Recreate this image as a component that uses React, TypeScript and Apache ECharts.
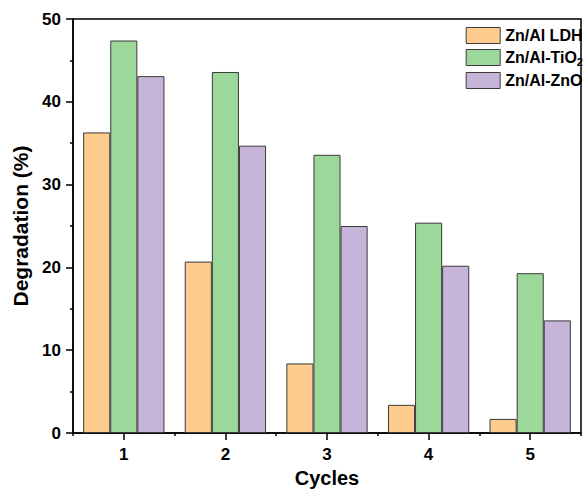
import React, { useEffect, useRef } from "react";
import * as echarts from "echarts";

const cycles = ["1", "2", "3", "4", "5"];
const ldh = [36.3, 20.7, 8.4, 3.4, 1.7];
const tio2 = [47.4, 43.6, 33.6, 25.4, 19.3];
const zno = [43.1, 34.7, 25.0, 20.2, 13.6];
const seriesNames = ["Zn/Al LDH", "Zn/Al-TiO2", "Zn/Al-ZnO"];
const colors = ["#FFCC8F", "#9DD89B", "#C6B5D8"];

const FONT = "Liberation Sans, Arial, Helvetica, sans-serif";

export default function App() {
  const ref = useRef<HTMLDivElement>(null);
  useEffect(() => {
    if (!ref.current) return;
    const chart = echarts.init(ref.current, null, { renderer: "svg" });
    const values = [ldh, tio2, zno];
    const barBorder = { borderColor: "#3a3a3a", borderWidth: 1 };
    chart.setOption({
      animation: false,
      backgroundColor: "#ffffff",
      textStyle: { fontFamily: FONT },
      grid: {
        left: 73,
        right: 7,
        top: 19,
        bottom: 56,
        show: true,
        borderColor: "#000",
        borderWidth: 1.5,
        backgroundColor: "transparent",
        containLabel: false,
        outerBoundsMode: "none",
      },
      legend: {
        orient: "vertical",
        right: 0,
        top: 22,
        itemWidth: 34,
        itemHeight: 16,
        itemGap: 5,
        icon: "rect",
        itemStyle: { borderColor: "#3a3a3a", borderWidth: 1 },
        data: seriesNames,
        formatter: (name: string) =>
          name === "Zn/Al-TiO2" ? "Zn/Al-TiO{sub|2}" : name,
        textStyle: {
          fontFamily: FONT,
          fontWeight: "bold",
          fontSize: 16,
          color: "#000",
          rich: {
            sub: {
              fontFamily: FONT,
              fontWeight: "bold",
              fontSize: 11,
              color: "#000",
              padding: [8, 0, 0, 0],
            },
          },
        },
      },
      xAxis: [
        {
          type: "category",
          data: cycles,
          position: "bottom",
          name: "Cycles",
          nameLocation: "middle",
          nameGap: 35,
          nameTextStyle: {
            fontFamily: FONT,
            fontWeight: "bold",
            fontSize: 20,
            color: "#000",
          },
          axisLine: { show: true, lineStyle: { color: "#000", width: 1.5 } },
          axisTick: {
            show: true,
            alignWithLabel: true,
            length: 7,
            lineStyle: { color: "#000", width: 1.5 },
          },
          axisLabel: {
            margin: 13,
            fontFamily: FONT,
            fontWeight: "bold",
            fontSize: 17,
            color: "#000",
          },
          splitLine: { show: false },
        },
        {
          type: "category",
          data: cycles,
          position: "bottom",
          axisLine: { show: false },
          axisTick: {
            show: true,
            length: 3,
            lineStyle: { color: "#000", width: 1.5 },
          },
          axisLabel: { show: false },
          splitLine: { show: false },
        },
      ],
      yAxis: {
        type: "value",
        min: 0,
        max: 50,
        interval: 10,
        name: "Degradation (%)",
        nameLocation: "middle",
        nameGap: 30,
        nameTextStyle: {
          fontFamily: FONT,
          fontWeight: "bold",
          fontSize: 21,
          color: "#000",
        },
        axisLine: { show: true, lineStyle: { color: "#000", width: 1.5 } },
        axisTick: {
          show: true,
          length: 7,
          lineStyle: { color: "#000", width: 1.5 },
        },
        minorTick: {
          show: true,
          splitNumber: 2,
          length: 3,
          lineStyle: { color: "#000", width: 1.5 },
        },
        axisLabel: {
          margin: 12,
          fontFamily: FONT,
          fontWeight: "bold",
          fontSize: 17,
          color: "#000",
        },
        splitLine: { show: false },
      },
      series: seriesNames.map((n, i) => ({
        name: n,
        type: "bar",
        xAxisIndex: 0,
        data: values[i],
        barGap: "0%",
        barCategoryGap: "20%",
        itemStyle: { color: colors[i], ...barBorder },
      })),
    });
    return () => chart.dispose();
  }, []);
  return (
    <div
      ref={ref}
      style={{ position: "fixed", left: 0, top: 0, width: 588, height: 489 }}
    />
  );
}
